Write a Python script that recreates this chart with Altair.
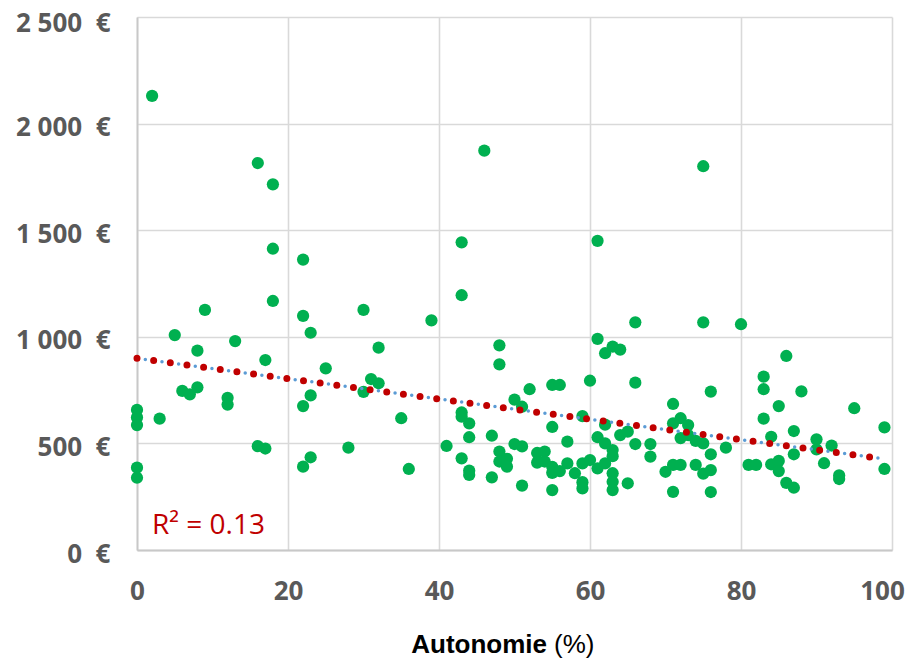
import altair as alt
import pandas as pd

# Autonomie (%) and cost (€) per point
autonomie = [
    0, 0, 0, 0, 0, 2, 3, 5, 6, 7, 8, 8, 9,
    12, 12, 13, 16, 16, 17, 17, 18, 18, 18,
    22, 22, 22, 22, 23, 23, 23, 25, 28, 30, 30,
    31, 32, 32, 35, 36, 39,
    41, 43, 43, 43, 43, 43, 44, 44, 44, 44, 46, 47, 47, 48, 48, 48, 48, 49, 49, 50, 50,
    51, 51, 51, 52, 53, 53, 54, 54, 55, 56, 55, 55, 55, 56, 55, 57, 57, 58, 59, 59, 59, 59,
    60, 60, 61, 61, 61, 61, 62, 62, 62, 62, 63, 63, 63, 63, 63, 63, 64, 64, 65, 65, 66, 66, 66, 68, 68,
    70, 71, 71, 71, 71, 72, 72, 72, 73, 73, 74, 74, 75, 75, 75, 75, 76, 76, 76, 76, 78,
    80, 81, 82, 83, 83, 83, 84, 84, 85, 85, 85, 86, 86, 87, 87, 87, 88, 90, 90, 91, 92, 93, 93, 95, 99, 99,
]
cout = [
    657, 622, 586, 386, 339, 2130, 616, 1008, 746, 730, 763, 935, 1126,
    714, 682, 980, 1815, 487, 891, 476, 1715, 1413, 1168,
    1362, 1098, 675, 391, 1019, 725, 435, 852, 480, 1126, 742,
    802, 782, 949, 618, 380, 1077,
    488, 1443, 1195, 645, 625, 430, 594, 529, 372, 352, 1873, 536, 341, 960, 871, 462, 415, 428, 391, 705, 497,
    672, 486, 302, 754, 455, 410, 462, 415, 774, 774, 577, 390, 362, 370, 281, 508, 406, 360, 628, 406, 318, 289,
    794, 422, 1450, 990, 529, 383, 923, 588, 500, 406, 954, 469, 440, 360, 320, 281, 940, 539, 555, 313, 1068, 785, 497, 497, 438,
    367, 685, 594, 399, 273, 618, 525, 399, 586, 539, 512, 399, 1800, 1068, 500, 358, 743, 449, 375, 272, 480,
    1059, 399, 399, 813, 754, 616, 531, 402, 675, 418, 370, 910, 315, 558, 449, 292, 744, 519, 472, 407, 490, 350, 333, 665, 575, 380,
]

# Linear trend line
trend_x = [0, 99]
trend_y = [899, 427]
r2_text = ["R\u00b2 = 0.13"]

x_ticks = [0, 20, 40, 60, 80, 100]
y_ticks = [0, 500, 1000, 1500, 2000, 2500]

df = pd.DataFrame({"autonomie": autonomie, "cout": cout})
tdf = pd.DataFrame({"x": trend_x, "y": trend_y})

xscale = alt.Scale(domain=[0, 100], nice=False)
yscale = alt.Scale(domain=[0, 2500], nice=False)

label_style = dict(
    labelFont="Open Sans",
    labelFontWeight="bold",
    labelFontSize=26,
    labelColor="#595959",
    ticks=False,
    grid=True,
    gridColor="#D9D9D9",
    gridWidth=1.6,
    domainColor="#C8C8C8",
    domainWidth=1.8,
    title=None,
)

xaxis = alt.Axis(
    values=x_ticks,
    labelPadding=28,
    labelFlush=False,
    labelOffset={"condition": {"test": "datum.value == 100", "value": -10}, "value": 0},
    **label_style,
)
yaxis = alt.Axis(
    values=y_ticks,
    labelPadding=27,
    labelOffset={"condition": {"test": "datum.value == 2500", "value": 6}, "value": 4},
    labelExpr="replace(format(datum.value, ','), ',', '\u00a0') + '\u00a0\u00a0€'",
    **label_style,
)

points = alt.Chart(df).mark_circle(size=150, color="#00B050", opacity=1).encode(
    x=alt.X("autonomie:Q", scale=xscale, axis=xaxis),
    y=alt.Y("cout:Q", scale=yscale, axis=yaxis),
)

tbase = alt.Chart(tdf).encode(
    x=alt.X("x:Q", scale=xscale),
    y=alt.Y("y:Q", scale=yscale),
)
blue = tbase.mark_line(color="#5B9BD5", strokeWidth=3.5, strokeDash=[0, 8.4], strokeCap="round")
red = tbase.mark_line(color="#C00000", strokeWidth=7, strokeDash=[0, 16.8], strokeCap="round")

r2 = alt.Chart(pd.DataFrame({"t": r2_text})).mark_text(
    align="left", baseline="alphabetic", font="Open Sans", fontSize=28, color="#C00000"
).encode(x=alt.value(15), y=alt.value(517), text="t:N")

title_df = pd.DataFrame({"a": ["Autonomie"], "b": ["(%)"]})
t1 = alt.Chart(title_df).mark_text(
    align="right", baseline="alphabetic", font="Liberation Sans", fontSize=26,
    fontWeight="bold", color="#000000"
).encode(x=alt.value(410), y=alt.value(636), text="a:N")
t2 = alt.Chart(title_df).mark_text(
    align="left", baseline="alphabetic", font="Liberation Sans", fontSize=26,
    color="#000000"
).encode(x=alt.value(417), y=alt.value(636), text="b:N")

chart = alt.layer(points, blue, red, r2, t1, t2).properties(
    width=755,
    height=533,
    autosize=alt.AutoSizeParams(type="none"),
    padding={"left": 129, "top": 9, "right": 14, "bottom": 108},
).configure_view(stroke=None)

chart.save("out.html", embed_options={"renderer": "svg", "actions": False})
